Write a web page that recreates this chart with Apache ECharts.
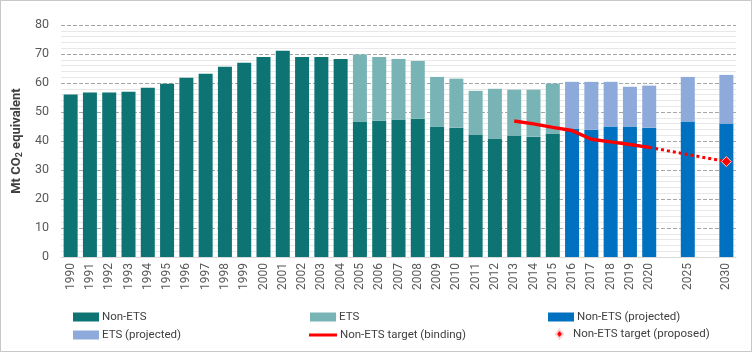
<!DOCTYPE html>
<html>
<head>
  <meta charset="UTF-8">
  <script src="https://cdn.jsdelivr.net/npm/echarts@6/dist/echarts.min.js"></script>
  <style>
    body { margin: 0; background: #fff; }
    #chart { width: 750px; height: 350px; border: 1px solid #c8c8c8; }
  </style>
</head>
<body>
<div id="chart"></div>
<script>
  // categories: 1990-2020, then gap, 2025, gap, 2030
  var years = ['1990','1991','1992','1993','1994','1995','1996','1997','1998','1999',
    '2000','2001','2002','2003','2004','2005','2006','2007','2008','2009',
    '2010','2011','2012','2013','2014','2015','2016','2017','2018','2019',
    '2020','','2025','','2030'];

  var nonEts = [56.0, 56.7, 56.7, 57.0, 58.4, 59.7, 61.8, 63.2, 65.6, 67.0,
    69.0, 71.1, 69.0, 69.0, 68.3, 46.7, 47.0, 47.4, 47.7, 45.0,
    44.6, 42.2, 40.9, 41.9, 41.5, 42.6, null, null, null, null,
    null, null, null, null, null];
  var ets = [null, null, null, null, null, null, null, null, null, null,
    null, null, null, null, null, 23.1, 22.0, 20.9, 19.9, 17.1,
    16.9, 15.1, 17.1, 15.8, 16.2, 17.2, null, null, null, null,
    null, null, null, null, null];
  var nonEtsProj = [null, null, null, null, null, null, null, null, null, null,
    null, null, null, null, null, null, null, null, null, null,
    null, null, null, null, null, null, 44.3, 43.9, 45.0, 45.0,
    44.6, null, 46.7, null, 46.0];
  var etsProj = [null, null, null, null, null, null, null, null, null, null,
    null, null, null, null, null, null, null, null, null, null,
    null, null, null, null, null, null, 16.1, 16.5, 15.4, 13.7,
    14.5, null, 15.4, null, 16.8];
  var targetBinding = [null, null, null, null, null, null, null, null, null, null,
    null, null, null, null, null, null, null, null, null, null,
    null, null, null, 46.9, 45.9, 44.7, 43.6, 40.6, 39.7, 38.8,
    37.8, null, null, null, null];
  var targetProposed = [null, null, null, null, null, null, null, null, null, null,
    null, null, null, null, null, null, null, null, null, null,
    null, null, null, null, null, null, null, null, null, null,
    37.8, null, null, null, 32.9];

  var font = 'Roboto';
  var txt = '#404040';

  var chart = echarts.init(document.getElementById('chart'));

  function legendAt(name, left, top, icon, w, h, padLeft) {
    return {
      data: [name], left: left, top: top, icon: icon,
      itemWidth: w, itemHeight: h, itemGap: 0,
      textStyle: { color: txt, fontFamily: font, fontSize: 11.5, padding: [0, 0, 0, padLeft] },
      selectedMode: false
    };
  }

  chart.setOption({
    animation: false,
    textStyle: { fontFamily: font },
    grid: { left: 60, right: 15, top: 24, bottom: 94 },
    legend: [
      legendAt('Non-ETS', 67, 305, 'rect', 26, 9, -2),
      legendAt('ETS', 304, 305, 'rect', 26, 9, -2),
      legendAt('Non-ETS (projected)', 542, 305, 'rect', 26, 9, -2),
      legendAt('ETS (projected)', 67, 323, 'rect', 26, 9, -2),
      legendAt('Non-ETS target (binding)', 303, 323, 'rect', 28, 3, -2),
      legendAt('Non-ETS target (proposed)', 549, 322, 'diamond', 7, 9, 5)
    ],
    xAxis: {
      type: 'category',
      data: years,
      axisLine: { lineStyle: { color: '#d9d9d9' } },
      axisTick: { show: false },
      axisLabel: { rotate: 90, interval: 0, color: '#595959', fontSize: 12, margin: 6 }
    },
    yAxis: {
      type: 'value',
      min: 0, max: 80, interval: 10,
      name: 'Mt CO{sub|2} equivalent',
      nameLocation: 'middle',
      nameRotate: 90,
      nameGap: 31,
      nameTextStyle: {
        color: txt, fontSize: 13, fontWeight: 'bold',
        rich: { sub: { fontSize: 9, fontWeight: 'bold', color: txt, verticalAlign: 'bottom', padding: [6, 0, 0, 0] } }
      },
      axisLine: { show: false },
      axisTick: { show: false },
      axisLabel: { color: '#595959', fontSize: 12.5, margin: 12 },
      splitLine: { lineStyle: { color: '#a6a6a6', type: [4, 2] } },
      minorTick: { show: false, splitNumber: 5 },
      minorSplitLine: { show: true, lineStyle: { color: '#e8e8e8' } }
    },
    series: [
      { name: 'Non-ETS', type: 'bar', stack: 'a', barWidth: 14, data: nonEts,
        itemStyle: { color: '#0e7373' } },
      { name: 'Non-ETS (projected)', type: 'bar', stack: 'a', barWidth: 14, data: nonEtsProj,
        itemStyle: { color: '#0070c0' } },
      { name: 'ETS', type: 'bar', stack: 'a', barWidth: 14, data: ets,
        itemStyle: { color: '#78b4b5' } },
      { name: 'ETS (projected)', type: 'bar', stack: 'a', barWidth: 14, data: etsProj,
        itemStyle: { color: '#8eaadb' } },
      { name: 'Non-ETS target (binding)', type: 'line', data: targetBinding,
        symbol: 'none', lineStyle: { color: '#ff0000', width: 3.5 },
        itemStyle: { color: '#ff0000' } },
      { name: 'Non-ETS target (proposed)', type: 'line', connectNulls: true,
        data: targetProposed.map(function (v, i) {
          return i === targetProposed.length - 1 ? { value: v, symbol: 'diamond', symbolSize: 10 } : { value: v, symbol: 'none' };
        }),
        symbol: 'none',
        lineStyle: { color: '#ff0000', width: 3, type: [3, 3] },
        itemStyle: { color: '#ff0000', borderColor: '#ffd0d0', borderWidth: 1 } }
    ]
  });
</script>
</body>
</html>
